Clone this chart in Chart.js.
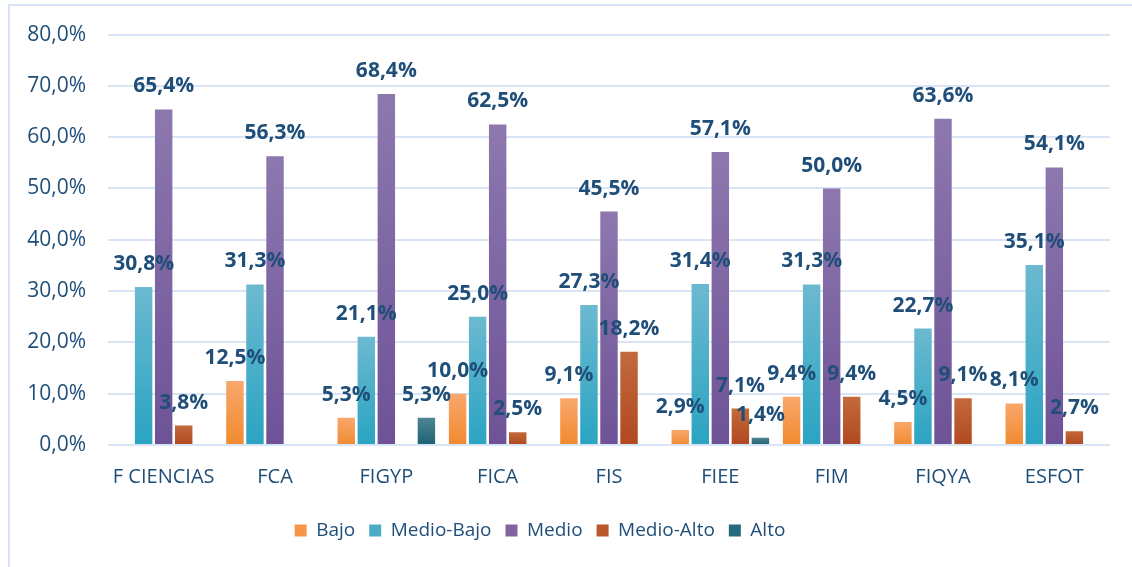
<!DOCTYPE html>
<html>
<head>
<meta charset="utf-8">
<script src="https://cdn.jsdelivr.net/npm/chart.js@4.4.1/dist/chart.umd.min.js"></script>
<style>
  body { margin: 0; background: #fff; }
  #wrap { position: relative; width: 1132px; height: 567px; overflow: hidden; }
  #frame { position: absolute; left: 8px; top: 4px; width: 1200px; height: 700px;
           border-left: 2px solid #d7e3f3; border-top: 2px solid #d7e3f3; }
  #chart { position: absolute; left: 0; top: 0; }
</style>
</head>
<body>
<div id="wrap">
  <div id="frame"></div>
  <canvas id="chart" width="1132" height="567"></canvas>
</div>
<script>
const categories = ["F CIENCIAS", "FCA", "FIGYP", "FICA", "FIS", "FIEE", "FIM", "FIQYA", "ESFOT"];
const bajo      = [0, 12.5, 5.3, 10.0, 9.1, 2.9, 9.4, 4.5, 8.1];
const medioBajo = [30.8, 31.3, 21.1, 25.0, 27.3, 31.4, 31.3, 22.7, 35.1];
const medio     = [65.4, 56.3, 68.4, 62.5, 45.5, 57.1, 50.0, 63.6, 54.1];
const medioAlto = [3.8, 0, 0, 2.5, 18.2, 7.1, 9.4, 9.1, 2.7];
const alto      = [0, 0, 5.3, 0, 0, 1.4, 0, 0, 0];
const yTicks = [0, 10, 20, 30, 40, 50, 60, 70, 80];

const textBlue = "#1f4e79";
const fontName = "'Open Sans', sans-serif";

function pct(v) {
  return v.toFixed(1).replace(".", ",") + "%";
}

// top / bottom colours of each bar's gradient
function grad(top, bottom, solid) {
  return function (ctx) {
    const chart = ctx.chart;
    if (!chart.chartArea || ctx.raw === undefined) return solid;
    const y = chart.scales.y;
    const y0 = y.getPixelForValue(0);
    const y1 = y.getPixelForValue(ctx.raw || 0.0001);
    if (!isFinite(y0) || !isFinite(y1) || y0 === y1) return solid;
    const g = chart.ctx.createLinearGradient(0, y1, 0, y0);
    g.addColorStop(0, top);
    g.addColorStop(1, bottom);
    return g;
  };
}

const labelPlugin = {
  id: "barLabels",
  afterLayout(chart) {
    // legend sits a bit left of centre in the original
    chart.legend.left -= 15;
    chart.legend.right -= 15;
  },
  afterDatasetsDraw(chart) {
    const c = chart.ctx;
    c.save();
    c.font = "bold 21px " + fontName;
    c.fillStyle = textBlue;
    c.textAlign = "center";
    c.textBaseline = "alphabetic";
    chart.data.datasets.forEach((ds, i) => {
      const meta = chart.getDatasetMeta(i);
      meta.data.forEach((el, j) => {
        const v = ds.data[j];
        if (!v) return;
        c.fillText(pct(v), el.x, el.y - 17);
      });
    });
    c.restore();
  }
};

new Chart(document.getElementById("chart"), {
  type: "bar",
  data: {
    labels: categories,
    datasets: [
      { label: "Bajo", data: bajo, backgroundColor: grad("#f9a76c", "#f08a2f", "#f79646"), solid: "#f79646" },
      { label: "Medio-Bajo", data: medioBajo, backgroundColor: grad("#6cb9d0", "#2aa4c2", "#4bacc6"), solid: "#4bacc6" },
      { label: "Medio", data: medio, backgroundColor: grad("#8d78ae", "#6e5297", "#8064a2"), solid: "#8064a2" },
      { label: "Medio-Alto", data: medioAlto, backgroundColor: grad("#c26a3c", "#b14820", "#b8582c"), solid: "#b8582c" },
      { label: "Alto", data: alto, backgroundColor: grad("#4f8594", "#1b6275", "#246b7e"), solid: "#246b7e" }
    ]
  },
  options: {
    responsive: false,
    animation: false,
    categoryPercentage: 0.9,
    barPercentage: 0.87,
    layout: { padding: { top: 25, right: 22, bottom: 17, left: 0 } },
    scales: {
      x: {
        grid: { display: false },
        border: { display: false },
        afterFit(axis) { axis.height += 6; },
        ticks: { color: textBlue, font: { family: fontName, size: 20 }, padding: 12 }
      },
      y: {
        min: 0,
        max: 80,
        afterBuildTicks(axis) {
          axis.ticks = yTicks.map(v => ({ value: v }));
        },
        afterFit(axis) { axis.width = 108; },
        grid: { color: "#d9e5f5", lineWidth: 2, drawTicks: false },
        border: { display: false },
        ticks: {
          color: textBlue,
          font: { family: fontName, size: 21 },
          padding: 22,
          callback: v => pct(v)
        }
      }
    },
    plugins: {
      tooltip: { enabled: false },
      legend: {
        position: "bottom",
        labels: {
          color: textBlue,
          font: { family: fontName, size: 19 },
          boxWidth: 12,
          boxHeight: 12,
          padding: 14,
          generateLabels(chart) {
            return chart.data.datasets.map((ds, i) => ({
              text: ds.label,
              fillStyle: ds.solid,
              strokeStyle: ds.solid,
              lineWidth: 0,
              fontColor: textBlue,
              datasetIndex: i
            }));
          }
        }
      }
    }
  },
  plugins: [labelPlugin]
});
</script>
</body>
</html>
